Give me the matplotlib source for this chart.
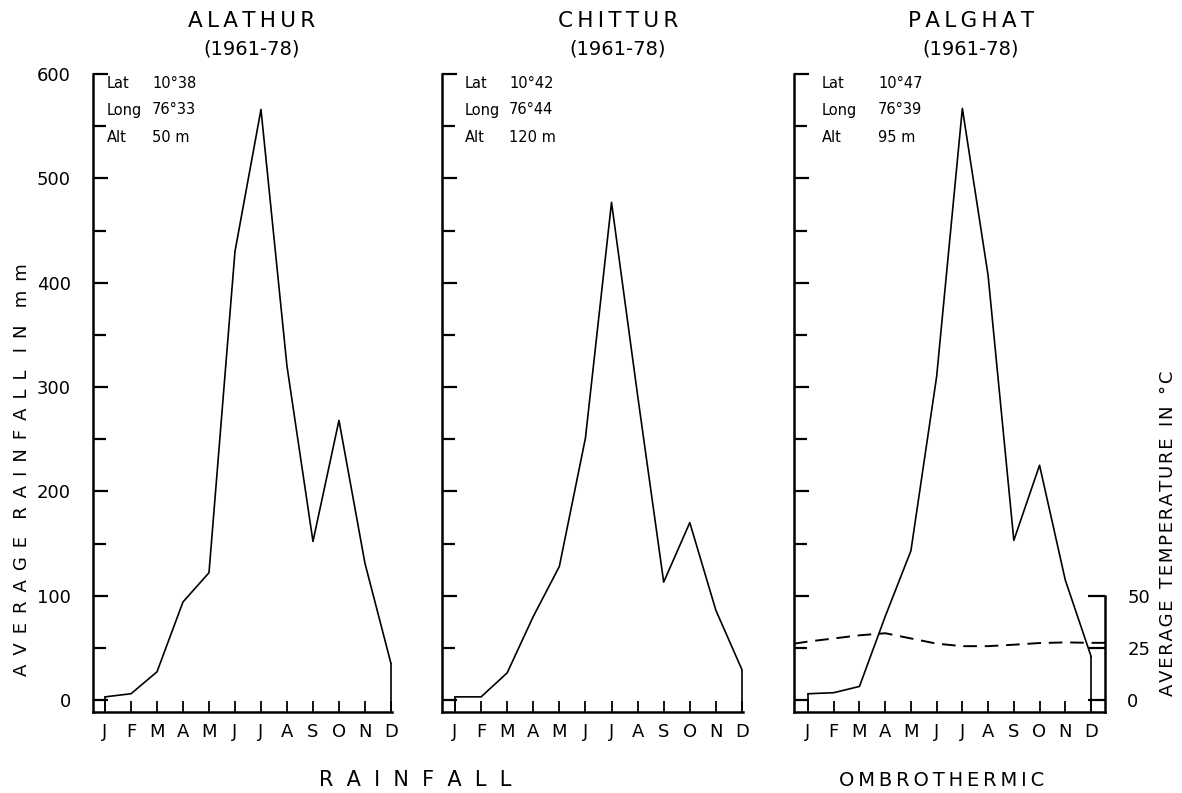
import matplotlib
matplotlib.use("Agg")
import matplotlib.pyplot as plt
import numpy as np
from matplotlib.ticker import MultipleLocator

# datos
meses = np.arange(1, 13)
etiquetas_mes = ['J', 'F', 'M', 'A', 'M', 'J', 'J', 'A', 'S', 'O', 'N', 'D']

estaciones = ['ALATHUR', 'CHITTUR', 'PALGHAT']
periodo = '(1961-78)'
lat = ['10°38', '10°42', '10°47']
lon = ['76°33', '76°44', '76°39']
alt = ['50 m', '120 m', '95 m']

lluvia_alathur = [3, 6, 27, 94, 122, 430, 566, 320, 152, 268, 131, 35]
lluvia_chittur = [3, 3, 26, 80, 128, 251, 477, 292, 113, 170, 86, 29]
lluvia_palghat = [6, 7, 13, 80, 143, 310, 567, 407, 153, 225, 115, 42]
temp_palghat = [28, 29.5, 31, 32, 29.5, 27, 25.8, 25.8, 26.5, 27.3, 27.6, 27.4]

W, H = 1182, 793
fig = plt.figure(figsize=(W / 100, H / 100), dpi=100)
fig.patch.set_facecolor('white')

def px(x, y):
    return x / W, 1 - y / H

def espaciado(s, sep='\u2009', entre='  '):
    return entre.join(sep.join(p) for p in s.split(' '))

# posiciones de los paneles (en píxeles)
izq = [93, 442, 794]
ancho = [299, 301, 311]
xlims = [(0.538, 12.04), (0.502, 12.04), (0.456, 12.544)]
abajo = (H - 712) / H
alto = (712 - 74) / H

series = [lluvia_alathur, lluvia_chittur, lluvia_palghat]
ejes = []
for i in range(3):
    ax = fig.add_axes([izq[i] / W, abajo, ancho[i] / W, alto])
    ax.plot(meses, series[i], color='black', lw=1.2)
    ax.vlines(meses[-1], -11.5, series[i][-1], color='black', lw=1.2)
    ax.vlines(meses[0], -11.5, series[i][0], color='black', lw=1.2)
    ax.set_xlim(*xlims[i])
    ax.set_ylim(-11.5, 600)
    ax.yaxis.set_major_locator(MultipleLocator(100))
    ax.yaxis.set_minor_locator(MultipleLocator(50))
    ax.set_xticks(meses)
    ax.set_xticklabels(etiquetas_mes, fontsize=13)
    ax.tick_params(axis='x', direction='in', length=8, width=1.3, pad=8)
    ax.tick_params(axis='y', which='major', direction='in', length=11, width=1.6, pad=16, labelsize=13)
    ax.tick_params(axis='y', which='minor', direction='in', length=9, width=1.6)
    for s in ['top', 'right']:
        ax.spines[s].set_visible(False)
    for s in ['left', 'bottom']:
        ax.spines[s].set_linewidth(1.8)
    ax.patch.set_alpha(0)
    if i > 0:
        ax.set_yticklabels([])
    ejes.append(ax)

# temperatura en el panel de Palghat
ax3 = ejes[2]
axt = ax3.twinx()
axt.set_ylim(-11.5 / 2, 300)
x_t = np.r_[xlims[2][0], meses, xlims[2][1]]
y_t = np.r_[temp_palghat[0] - 1, temp_palghat, temp_palghat[-1]]
axt.plot(x_t, y_t, color='black', lw=1.4, dashes=(7, 4))
axt.set_yticks([0, 25, 50])
axt.tick_params(axis='y', direction='in', length=12, width=1.6, pad=16, labelsize=13)
for s in ['top', 'left', 'bottom']:
    axt.spines[s].set_visible(False)
axt.spines['right'].set_bounds(-11.5 / 2, 50)
axt.spines['right'].set_linewidth(1.8)

# títulos y datos de cada estación
cx_titulo = [252, 618, 971]
x_etq = [107, 465, 822]
x_val = [152, 509, 878]
for i in range(3):
    fig.text(*px(cx_titulo[i], 21), espaciado(estaciones[i]), fontsize=15.5,
             ha='center', va='center')
    fig.text(*px(cx_titulo[i], 49), periodo, fontsize=14, ha='center', va='center')
    for fila, (nom, val) in enumerate([('Lat', lat[i]), ('Long', lon[i]), ('Alt', alt[i])]):
        y = 83 + fila * 27
        fig.text(*px(x_etq[i], y), nom, fontsize=10.5, ha='left', va='center')
        fig.text(*px(x_val[i], y), val, fontsize=10.5, ha='left', va='center')

# rótulos de los ejes
fig.text(*px(22, 470), espaciado('AVERAGE RAINFALL IN mm', '\u2002', '   '), fontsize=13,
         rotation=90, ha='center', va='center')
fig.text(*px(1168, 533), espaciado('AVERAGE TEMPERATURE IN °C', '\u200a', '  '), fontsize=13,
         rotation=90, ha='center', va='center')
fig.text(*px(415, 780), espaciado('RAINFALL', '  '), fontsize=15, ha='center', va='center')
fig.text(*px(942, 780), espaciado('OMBROTHERMIC'), fontsize=14, ha='center', va='center')

plt.savefig('out.png', dpi=100)
